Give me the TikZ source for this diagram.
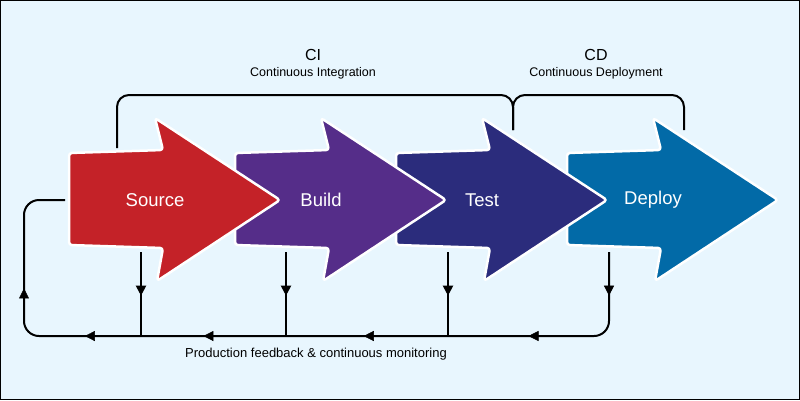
\documentclass[tikz,border=0pt]{standalone}
\usepackage{fontspec}
\setmainfont{Liberation Sans}
\usetikzlibrary{arrows.meta,decorations.markings}
\definecolor{bgblue}{HTML}{E8F6FE}
\definecolor{srcred}{HTML}{C42228}
\definecolor{bldpurple}{HTML}{552D89}
\definecolor{tstnavy}{HTML}{2B2C7C}
\definecolor{dplblue}{HTML}{026AA7}
\tikzset{
  stage/.style={draw=white, line width=2.5pt, rounded corners=3pt, line join=round},
  stagelabel/.style={text=white, font=\fontsize{18.5}{20}\selectfont, inner sep=0pt},
  bracket/.style={line width=2pt, rounded corners=12pt},
  flow/.style={line width=2pt},
  tipat/.style={postaction={decorate}, decoration={markings,
      mark=at position #1 with {\arrow{Triangle[length=10pt,width=10pt]}}}},
  phase/.style={font=\fontsize{16}{18}\selectfont, inner sep=0pt},
  phasesub/.style={font=\fontsize{12.5}{14}\selectfont, inner sep=0pt},
}
% left x, colour, name, text
\newcommand\stagearrow[4]{%
  \draw[stage, fill=#2] (#1,153) -- (#1+94,150) -- (#1+86,118) -- (#1+211,200)
    -- (#1+88,281) -- (#1+94,248) -- (#1,245) -- cycle;
  \node[stagelabel] (#3) at (#1+86,200) {#4};}
\begin{document}
\begin{tikzpicture}[x=1pt, y=-1pt]
  \draw[fill=bgblue, line width=1pt] (0.5,0.5) rectangle (799.5,399.5);
  % stages, right to left so that each tip lies over the next one
  \stagearrow{567}{dplblue}{dpl}{Deploy}
  \stagearrow{396}{tstnavy}{tst}{Test}
  \stagearrow{235}{bldpurple}{bld}{Build}
  \stagearrow{69}{srcred}{src}{Source}
  % CI / CD brackets
  \coordinate (cil) at (117,148); \coordinate (cim) at (313,95);
  \coordinate (cij) at (513,130); \coordinate (cdm) at (596,95);
  \coordinate (cdr) at (684,130);
  \draw[bracket] (cil) |- (cim) -| (cij);
  \draw[bracket] (cij) |- (cdm) -| (cdr);
  \node[phase] (ci) at (313,55) {CI};
  \node[phasesub] (cisub) at (313,73) {Continuous Integration};
  \node[phase] (cd) at (596,55) {CD};
  \node[phasesub] (cdsub) at (596,73) {Continuous Deployment};
  % feedback loop
  \foreach \n/\x in {1/141,2/286,3/448,4/609} {
    \coordinate (s\n) at (\x,252);
    \coordinate (j\n) at (\x,336);
  }
  \coordinate (lc) at (24,336); \coordinate (lt) at (24,200);
  \coordinate (ret) at (65,200);
  \draw[flow, rounded corners=15pt] (s4) |- (lc) |- (ret);
  \foreach \n in {1,2,3} \draw[flow, tipat=0.52] (s\n) -- (j\n);
  \path[tipat=0.52] (s4) -- (j4);
  \foreach \a/\b/\p in {j4/j3/0.5, j3/j2/0.52, j2/j1/0.57, j1/lc/0.48, lc/lt/0.35}
    \path[tipat=\p] (\a) -- (\b);
  \node[font=\fontsize{13}{15}\selectfont] (fb) at (316,354)
    {Production feedback \& continuous monitoring};
\end{tikzpicture}
\end{document}
